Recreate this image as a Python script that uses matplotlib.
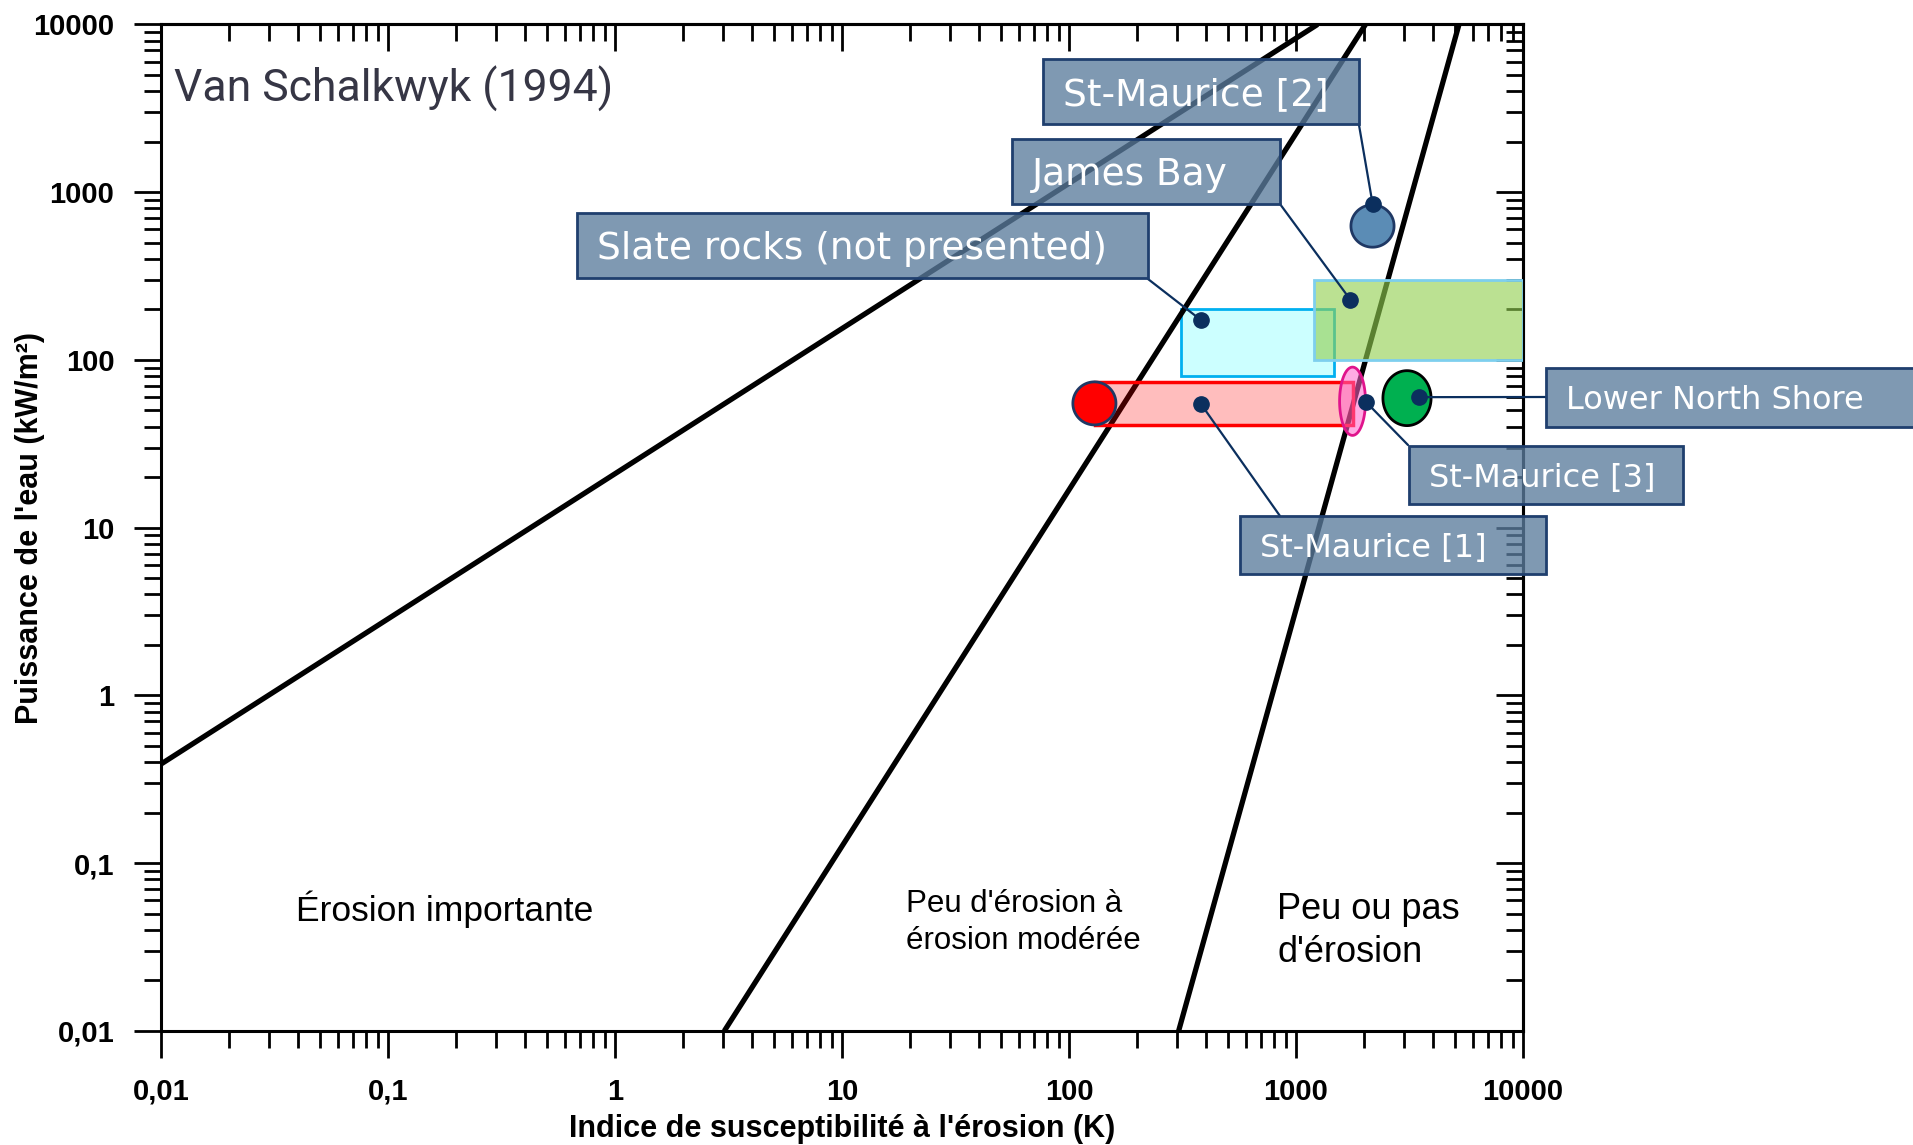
import numpy as np
import matplotlib.pyplot as plt
from matplotlib.patches import Rectangle, ConnectionPatch
from matplotlib.ticker import NullFormatter

W, H = 1913, 1145

# class boundaries: start / end of each line (K, P)
bound_k_start = [0.01, 3.03, 304]
bound_p_start = [0.39, 0.01, 0.01]
bound_k_end = [1245, 2024, 5225]
bound_p_end = [10000, 10000, 10000]

# rectangular ranges
slate_k = [310, 1470]
slate_p = [80, 200]
james_k = [1200, 10000]
james_p = [100, 300]
stm1_k = [130, 1774]
stm1_p = [41, 74]

# elliptic ranges [min, max]
stm1_end_k = [104, 161]
stm1_end_p = [41, 74]
stm3_k = [1556, 2023]
stm3_p = [35.5, 90.6]
stm2_k = [1746, 2704]
stm2_p = [470, 840]
lns_k = [2415, 3936]
lns_p = [40.6, 86.3]

# labelled points
site_names = ["St-Maurice [2]", "James Bay", "Slate rocks (not presented)",
              "Lower North Shore", "St-Maurice [3]", "St-Maurice [1]"]
site_k = [2175, 1738, 381, 3483, 2028, 381]
site_p = [851, 228, 173, 60, 56.4, 54.7]

ticks = [0.01, 0.1, 1, 10, 100, 1000, 10000]
tick_labels = ["0,01", "0,1", "1", "10", "100", "1000", "10000"]

# label boxes, pixels from top-left: x0, y0, x1, y1, leader x, leader y, fontsize
boxes = [
    (1043, 59, 1359, 124, 1359, 125, 27),
    (1012, 139, 1280, 204, 1280, 204, 27),
    (577, 213, 1148, 278, 1148, 279, 27),
    (1546, 368, 1930, 427, 1546, 397, 23),
    (1409, 446, 1683, 504, 1408, 445, 23),
    (1240, 516, 1546, 574, 1280, 516, 23),
]

navy = "#0b2f5e"
plt.rcParams['font.family'] = ['Liberation Sans', 'DejaVu Sans']

fig = plt.figure(figsize=(W / 100, H / 100), dpi=100)
ax = fig.add_axes([161 / W, 114 / H, 1362 / W, 1006.6 / H])
ax.set_xscale('log')
ax.set_yscale('log')
ax.set_xlim(0.01, 10000)
ax.set_ylim(0.01, 10000)


def ellipse(k, p, **kw):
    t = np.linspace(0, 2 * np.pi, 200)
    lk, lp = np.log10(k), np.log10(p)
    x = 10 ** (lk.mean() + (lk[1] - lk[0]) / 2 * np.cos(t))
    y = 10 ** (lp.mean() + (lp[1] - lp[0]) / 2 * np.sin(t))
    ax.fill(x, y, **kw)


def rect(k, p, **kw):
    ax.fill([k[0], k[1], k[1], k[0]], [p[0], p[0], p[1], p[1]], **kw)


rect(slate_k, slate_p, facecolor='#ccffff', edgecolor='#00b0f0', lw=2, zorder=1)

for k0, p0, k1, p1 in zip(bound_k_start, bound_p_start, bound_k_end, bound_p_end):
    ax.plot([k0, k1], [p0, p1], color='black', lw=3.8, solid_capstyle='butt', zorder=2)

rect(stm1_k, stm1_p, facecolor=(1.0, 0.0, 0.0, 0.26), edgecolor='#ff0000', lw=2.5, zorder=3)
ellipse(stm1_end_k, stm1_end_p, facecolor='#ff0000', edgecolor='#1f3864', lw=2, zorder=3)
rect(james_k, james_p, facecolor=(0.573, 0.816, 0.314, 0.62), edgecolor='#7ecfee', lw=2, zorder=3)
ellipse(stm3_k, stm3_p, facecolor=(1.0, 0.4, 0.8, 0.55), edgecolor='#e0148c', lw=2, zorder=3)
ellipse(stm2_k, stm2_p, facecolor='#5b8cb5', edgecolor='#1f3864', lw=2, zorder=3)
ellipse(lns_k, lns_p, facecolor='#00b050', edgecolor='black', lw=2, zorder=3)

ax.plot(site_k, site_p, 'o', color=navy, ms=11, zorder=6)

# labels with leader lines
for name, k, p, b in zip(site_names, site_k, site_p, boxes):
    x0, y0, x1, y1, lx, ly, fs = b
    con = ConnectionPatch(xyA=(k, p), coordsA=ax.transData,
                          xyB=(lx / W, 1 - ly / H), coordsB=fig.transFigure,
                          color=navy, lw=1.6, zorder=5, clip_on=False)
    ax.add_artist(con)
    fig.add_artist(Rectangle((x0 / W, 1 - y1 / H), (x1 - x0) / W, (y1 - y0) / H,
                             transform=fig.transFigure, facecolor=(0.357, 0.486, 0.616, 0.78),
                             edgecolor='#1f3f6e', lw=2, zorder=10))
    base = (y0 + y1) / 2 + 0.365 * fs * 100 / 72
    fig.text((x0 + 20) / W, 1 - base / H, name, ha='left', va='baseline',
             color='white', fontsize=fs, family='DejaVu Sans', zorder=11)

# region texts
ax.text(0.0095, 0.936, "Van Schalkwyk (1994)", transform=ax.transAxes, ha='left', va='center',
        fontsize=32, color='#363645', family=['Roboto', 'DejaVu Sans'])
ax.text(0.0991, 0.121, "Érosion importante", transform=ax.transAxes, ha='left', va='center',
        fontsize=25.5)
ax.text(0.547, 0.108, "Peu d'érosion à\nérosion modérée", transform=ax.transAxes,
        ha='left', va='center', fontsize=22.5, linespacing=1.3)
ax.text(0.8194, 0.099, "Peu ou pas\nd'érosion", transform=ax.transAxes,
        ha='left', va='center', fontsize=26, linespacing=1.3)

# axes, ticks
ax.set_xticks(ticks, tick_labels, fontsize=21, fontweight='bold')
ax.set_yticks(ticks, tick_labels, fontsize=21, fontweight='bold')
ax.xaxis.set_minor_formatter(NullFormatter())
ax.yaxis.set_minor_formatter(NullFormatter())
ax.tick_params(which='major', direction='out', length=19.5, width=2, pad=14, top=False, right=False)
ax.tick_params(which='minor', direction='out', length=12.5, width=2, top=False, right=False)
for s in ax.spines.values():
    s.set_linewidth(2.2)

secx = ax.secondary_xaxis('top')
secy = ax.secondary_yaxis('right')
for sec in (secx, secy):
    sec.tick_params(which='major', direction='in', length=19.5, width=2,
                    labeltop=False, labelright=False)
    sec.tick_params(which='minor', direction='in', length=12.5, width=2)
    for s in sec.spines.values():
        s.set_linewidth(2.2)
secx.xaxis.set_major_formatter(NullFormatter())
secx.xaxis.set_minor_formatter(NullFormatter())
secy.yaxis.set_major_formatter(NullFormatter())
secy.yaxis.set_minor_formatter(NullFormatter())

ax.set_xlabel("Indice de susceptibilité à l'érosion (K)", fontsize=22, fontweight='bold', va='center')
ax.set_ylabel("Puissance de l'eau (kW/m²)", fontsize=22, fontweight='bold', va='center')
ax.xaxis.set_label_coords(0.5, -0.0974)
ax.yaxis.set_label_coords(-0.0962, 0.5)

fig.savefig("out.png", dpi=100)
